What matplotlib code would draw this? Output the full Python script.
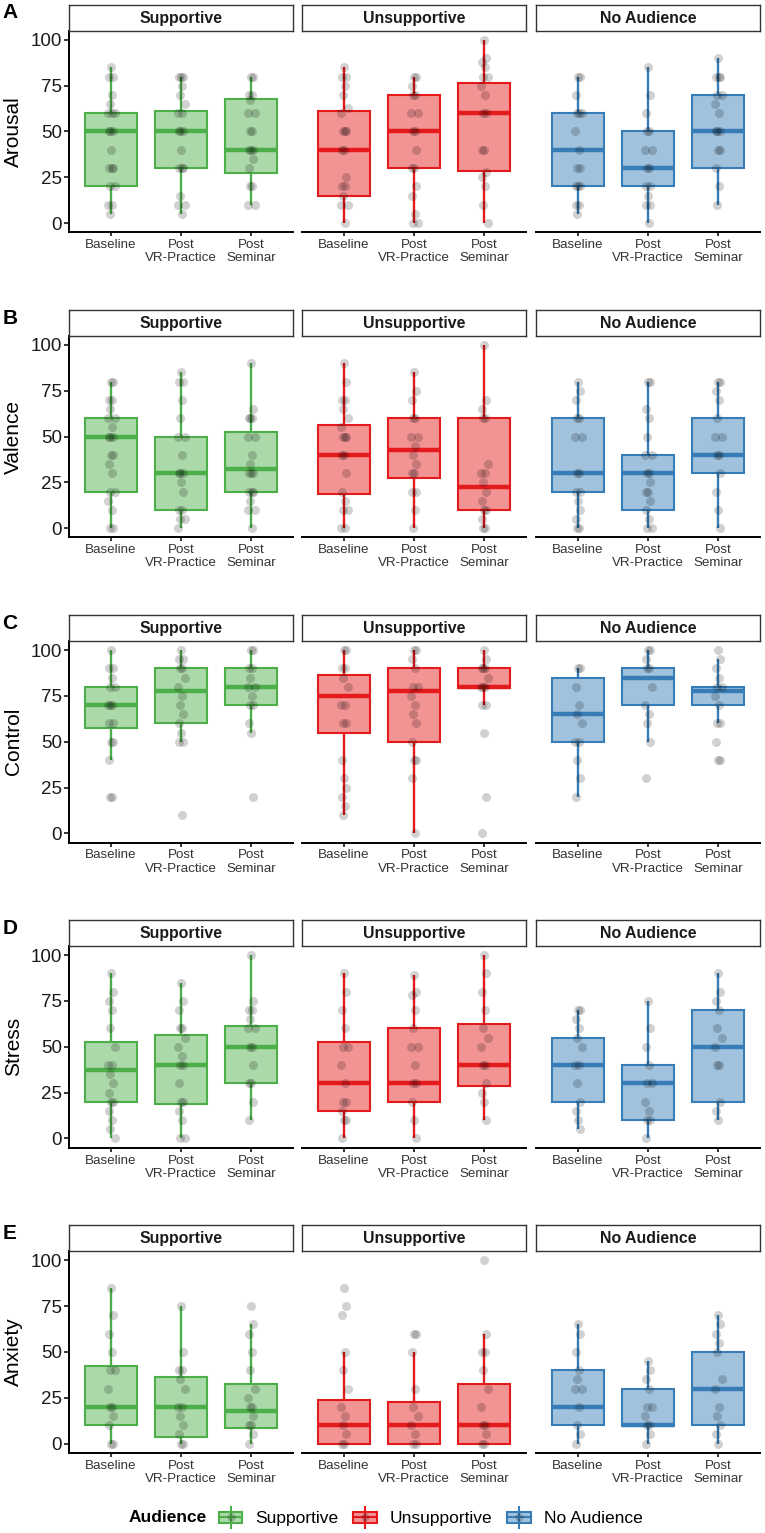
import matplotlib
matplotlib.use("Agg")
import matplotlib.pyplot as plt
from matplotlib.patches import Rectangle
from matplotlib.lines import Line2D
from matplotlib.legend_handler import HandlerBase
from matplotlib.colors import to_rgba
import numpy as np

plt.rcParams['font.family'] = ['Liberation Sans', 'DejaVu Sans']

# ---------------- data ----------------
AUDIENCES = ["Supportive", "Unsupportive", "No Audience"]
TIMEPOINTS = ["Baseline", "Post\nVR-Practice", "Post\nSeminar"]
MEASURES = ["Arousal", "Valence", "Control", "Stress", "Anxiety"]
PANEL_LETTERS = ["A", "B", "C", "D", "E"]
COLORS = ["#4DAF4A", "#E41A1C", "#377EB8"]

# box statistics: 9 boxes (Supportive B/V/S, Unsupportive B/V/S, No Audience B/V/S)
# each: [q1, median, q3, whisker_low, whisker_high]
AROUSAL_STATS = [
    [20, 50, 60, 5, 85], [30, 50, 61.25, 5, 80], [27.5, 40, 68, 10, 80],
    [15, 40, 61, 0, 85], [30, 50, 70, 0, 80], [28.5, 60, 76.5, 0, 100],
    [20, 40, 60, 5, 80], [20, 30, 50, 0, 85], [30, 50, 70, 10, 90],
]
VALENCE_STATS = [
    [20, 50, 60, 0, 80], [10, 30, 50, 0, 85], [20, 32.5, 52.5, 0, 90],
    [18.75, 40, 56.25, 0, 90], [27.5, 42.5, 60, 0, 85], [10, 22.5, 60, 0, 100],
    [20, 30, 60, 0, 80], [10, 30, 40, 0, 80], [30, 40, 60, 0, 80],
]
CONTROL_STATS = [
    [57.5, 70, 80, 40, 100], [60, 77.5, 90, 50, 100], [70, 80, 90, 55, 100],
    [55, 75, 86.25, 10, 100], [50, 77.5, 90, 0, 100], [79.5, 80, 90, 70, 100],
    [50, 65, 85, 20, 90], [70, 85, 90, 50, 100], [70, 77.5, 80, 60, 95],
]
STRESS_STATS = [
    [20, 37.5, 52.5, 0, 90], [18.75, 40, 56.25, 0, 85], [30, 50, 61.25, 10, 100],
    [15, 30, 52.5, 0, 90], [20, 30, 60, 0, 89], [28.75, 40, 62.5, 10, 100],
    [20, 40, 55, 5, 70], [10, 30, 40, 0, 75], [20, 50, 70, 10, 90],
]
ANXIETY_STATS = [
    [10, 20, 42.5, 0, 85], [3.75, 20, 36.25, 0, 75], [8.75, 17.5, 32.5, 0, 65],
    [0, 10, 23.75, 0, 50], [0, 10, 22.5, 0, 50], [0, 10, 32.5, 0, 60],
    [10, 20, 40, 0, 65], [9.5, 10, 30, 0, 45], [10, 30, 50, 0, 70],
]

# individual ratings per box (same order)
AROUSAL_POINTS = [
    [85, 80, 80, 70, 65, 60, 60, 60, 50, 50, 50, 40, 30, 30, 30, 20, 20, 10, 10, 5],
    [80, 80, 80, 75, 70, 65, 60, 60, 50, 50, 50, 40, 30, 30, 30, 15, 10, 10, 5],
    [80, 80, 70, 70, 67, 60, 60, 50, 50, 40, 40, 40, 35, 30, 20, 20, 10, 10],
    [85, 80, 80, 75, 70, 63, 60, 50, 50, 50, 40, 40, 25, 20, 20, 15, 10, 10, 0],
    [80, 80, 75, 70, 70, 60, 60, 50, 50, 40, 30, 30, 20, 15, 5, 0, 0],
    [100, 90, 88, 85, 80, 80, 75, 70, 60, 60, 40, 40, 28, 25, 20, 10, 0],
    [80, 80, 70, 60, 60, 60, 50, 40, 30, 30, 20, 20, 20, 10, 10, 5],
    [85, 70, 60, 50, 50, 40, 40, 30, 30, 20, 20, 15, 10, 10, 0],
    [90, 80, 80, 80, 70, 70, 65, 60, 50, 50, 50, 40, 40, 30, 20, 10],
]
VALENCE_POINTS = [
    [80, 80, 70, 70, 65, 60, 60, 55, 50, 50, 50, 40, 40, 35, 30, 20, 20, 15, 10, 0, 0],
    [85, 80, 80, 70, 60, 50, 50, 40, 30, 30, 30, 25, 20, 10, 10, 5, 5, 0],
    [90, 65, 60, 60, 60, 50, 50, 40, 35, 30, 30, 30, 20, 20, 20, 15, 10, 10, 0],
    [90, 80, 70, 70, 65, 60, 55, 50, 50, 50, 40, 40, 30, 20, 15, 10, 10, 0, 0],
    [85, 75, 70, 60, 60, 50, 50, 45, 40, 35, 30, 30, 20, 20, 10, 0],
    [100, 70, 65, 60, 60, 35, 30, 30, 25, 20, 15, 10, 10, 5, 0, 0],
    [80, 75, 70, 60, 60, 50, 50, 30, 30, 20, 20, 15, 10, 5, 0, 0],
    [80, 80, 65, 60, 50, 40, 40, 30, 30, 25, 20, 20, 15, 10, 5, 0, 0],
    [80, 80, 75, 70, 60, 50, 50, 40, 40, 30, 20, 10, 0],
]
CONTROL_POINTS = [
    [100, 90, 90, 85, 80, 80, 70, 70, 70, 60, 60, 50, 50, 40, 20, 20],
    [100, 95, 95, 90, 90, 85, 80, 75, 70, 65, 60, 55, 50, 50, 10],
    [100, 100, 90, 90, 85, 80, 80, 75, 70, 70, 60, 55, 20],
    [100, 100, 90, 90, 85, 80, 70, 70, 60, 60, 40, 30, 25, 20, 15, 10],
    [100, 100, 95, 90, 80, 80, 75, 70, 65, 60, 50, 40, 40, 30, 0],
    [100, 95, 90, 90, 90, 85, 80, 80, 80, 70, 70, 55, 20, 0],
    [90, 90, 80, 70, 65, 60, 50, 50, 40, 30, 20],
    [100, 100, 95, 90, 90, 80, 70, 65, 60, 50, 30],
    [100, 95, 90, 85, 80, 80, 75, 70, 60, 60, 50, 40, 40],
]
STRESS_POINTS = [
    [90, 80, 75, 70, 60, 50, 40, 40, 35, 30, 25, 20, 20, 15, 10, 5, 0],
    [85, 75, 70, 60, 60, 55, 50, 45, 40, 40, 30, 20, 20, 15, 10, 0, 0],
    [100, 75, 70, 70, 65, 60, 60, 50, 50, 40, 30, 30, 20, 10],
    [90, 80, 70, 60, 50, 50, 40, 30, 20, 20, 15, 10, 10, 0],
    [89, 80, 78, 70, 60, 50, 50, 40, 30, 30, 20, 10, 0],
    [100, 90, 80, 70, 60, 55, 50, 40, 40, 30, 25, 20, 10],
    [70, 70, 65, 60, 55, 50, 40, 40, 30, 20, 15, 10, 5],
    [75, 60, 50, 40, 30, 30, 20, 15, 10, 10, 0],
    [90, 80, 75, 70, 60, 55, 50, 40, 40, 20, 15, 10],
]
ANXIETY_POINTS = [
    [85, 70, 60, 50, 40, 40, 30, 20, 20, 15, 10, 0, 0],
    [75, 50, 40, 40, 35, 30, 20, 20, 15, 10, 5, 0, 0],
    [75, 65, 60, 50, 40, 30, 25, 20, 20, 15, 10, 10, 5, 0],
    [85, 75, 70, 50, 40, 30, 20, 15, 10, 5, 0, 0],
    [60, 60, 50, 30, 20, 15, 10, 5, 0, 0],
    [100, 60, 50, 50, 40, 30, 20, 10, 10, 5, 0, 0],
    [65, 60, 50, 40, 35, 30, 30, 20, 10, 5, 0],
    [45, 40, 35, 30, 20, 20, 15, 10, 10, 5, 0],
    [70, 65, 60, 55, 50, 35, 30, 20, 15, 10, 5, 0],
]

ALL_STATS = [AROUSAL_STATS, VALENCE_STATS, CONTROL_STATS, STRESS_STATS, ANXIETY_STATS]
ALL_POINTS = [AROUSAL_POINTS, VALENCE_POINTS, CONTROL_POINTS, STRESS_POINTS, ANXIETY_POINTS]
Y_TICKS = [0, 25, 50, 75, 100]

# ---------------- layout ----------------
W, H = 765, 1533
fig = plt.figure(figsize=(W / 100, H / 100), dpi=100)

PANEL_X = [69, 302, 536]
PANEL_W = 224
ROW_STEP = 305.1
STRIP_TOP = 4.7
PANEL_TOP = 30.7
PANEL_BOTTOM = 232.3
JITTER = [0.0, 0.035, -0.035, 0.018, -0.018, 0.05, -0.05, 0.008, -0.008, 0.027, -0.027]
FILL_ALPHA = 0.47


def fx(px):
    return px / W


def fy(py):
    return 1 - py / H


for r, measure in enumerate(MEASURES):
    off = r * ROW_STEP
    top = PANEL_TOP + off
    bot = PANEL_BOTTOM + off
    for j, aud in enumerate(AUDIENCES):
        x0 = PANEL_X[j]
        ax = fig.add_axes([fx(x0), fy(bot), PANEL_W / W, (bot - top) / H])
        color = COLORS[j]
        stats = []
        for t in range(3):
            q1, med, q3, lo, hi = ALL_STATS[r][j * 3 + t]
            stats.append(dict(q1=q1, med=med, q3=q3, whislo=lo, whishi=hi, fliers=[]))
        bp = ax.bxp(stats, positions=[1, 2, 3], widths=0.75, patch_artist=True,
                    showcaps=False, showfliers=False,
                    boxprops=dict(edgecolor=color, linewidth=1.5),
                    whiskerprops=dict(color=color, linewidth=1.7, solid_capstyle='butt'),
                    medianprops=dict(color=color, linewidth=3.2, solid_capstyle='butt'))
        for patch in bp['boxes']:
            patch.set_facecolor(to_rgba(color, FILL_ALPHA))
            patch.set_zorder(2)
        for ln in bp['whiskers'] + bp['medians']:
            ln.set_zorder(2.5)
        for t in range(3):
            vals = ALL_POINTS[r][j * 3 + t]
            xs = [t + 1 + JITTER[i % len(JITTER)] for i in range(len(vals))]
            ax.scatter(xs, vals, s=42, color='black', alpha=0.18, linewidths=0, zorder=3)

        ax.set_xlim(0.4, 3.6)
        ax.set_ylim(-5, 105)
        ax.set_xticks([1, 2, 3])
        ax.set_xticklabels(TIMEPOINTS, fontsize=9.6, color='#333333', linespacing=1.12)
        ax.tick_params(axis='x', length=3, width=1.1, pad=2, color='black')
        for side in ['top', 'right']:
            ax.spines[side].set_visible(False)
        ax.spines['bottom'].set_linewidth(1.4)
        if j == 0:
            ax.set_yticks(Y_TICKS)
            ax.set_yticklabels([str(v) for v in Y_TICKS], fontsize=13.5, color='#1a1a1a')
            ax.tick_params(axis='y', length=3.5, width=1.1, pad=1.5, color='black')
            ax.spines['left'].set_linewidth(1.4)
        else:
            ax.spines['left'].set_visible(False)
            ax.set_yticks([])
        ax.set_facecolor('none')

        # facet strip
        sax = fig.add_axes([fx(x0), fy(top), PANEL_W / W, (PANEL_TOP - STRIP_TOP) / H])
        sax.set_xticks([])
        sax.set_yticks([])
        for sp in sax.spines.values():
            sp.set_linewidth(1.0)
            sp.set_color('#333333')
        sax.text(0.5, 0.47, aud, ha='center', va='center', fontsize=11.4,
                 fontweight='bold', color='#1a1a1a', transform=sax.transAxes)

    # y label and panel letter
    fig.text(fx(13.5), fy((top + bot) / 2), measure, rotation=90, ha='center',
             va='center', fontsize=15, color='black')
    fig.text(fx(2.5), fy(3.5 + off), PANEL_LETTERS[r], ha='left', va='top',
             fontsize=15, fontweight='bold', color='black')


# ---------------- legend ----------------
class BoxKeyHandler(HandlerBase):
    def create_artists(self, legend, orig_handle, xdescent, ydescent, width, height,
                       fontsize, trans):
        c = orig_handle.get_color()
        x0, y0 = -xdescent, -ydescent
        cx, cy = x0 + width / 2, y0 + height / 2
        whisk = Line2D([cx, cx], [y0 - 0.15 * height, y0 + 1.15 * height], color=c,
                       linewidth=1.5, transform=trans)
        rect = Rectangle((x0, y0 + 0.12 * height), width, 0.76 * height,
                         facecolor=to_rgba(c, FILL_ALPHA), edgecolor=c,
                         linewidth=1.5, transform=trans)
        med = Line2D([x0, x0 + width], [cy, cy], color=c, linewidth=1.5, transform=trans)
        dot = Line2D([cx], [cy], marker='o', markersize=6, color='black', alpha=0.18,
                     markeredgewidth=0, linestyle='none', transform=trans)
        return [whisk, rect, med, dot]


handles = [Line2D([], [], color=c) for c in COLORS]
fig.text(fx(129), fy(1518), "Audience", ha='left', va='center', fontsize=12.5,
         fontweight='bold', color='black')
fig.legend(handles, AUDIENCES, handler_map={Line2D: BoxKeyHandler()},
           loc='center left', bbox_to_anchor=(fx(219), fy(1518)), ncol=3,
           frameon=False, fontsize=12.5, handlelength=1.35, handleheight=1.0,
           handletextpad=0.75, columnspacing=0.85, borderpad=0, borderaxespad=0)

fig.savefig("out.png", dpi=100)
